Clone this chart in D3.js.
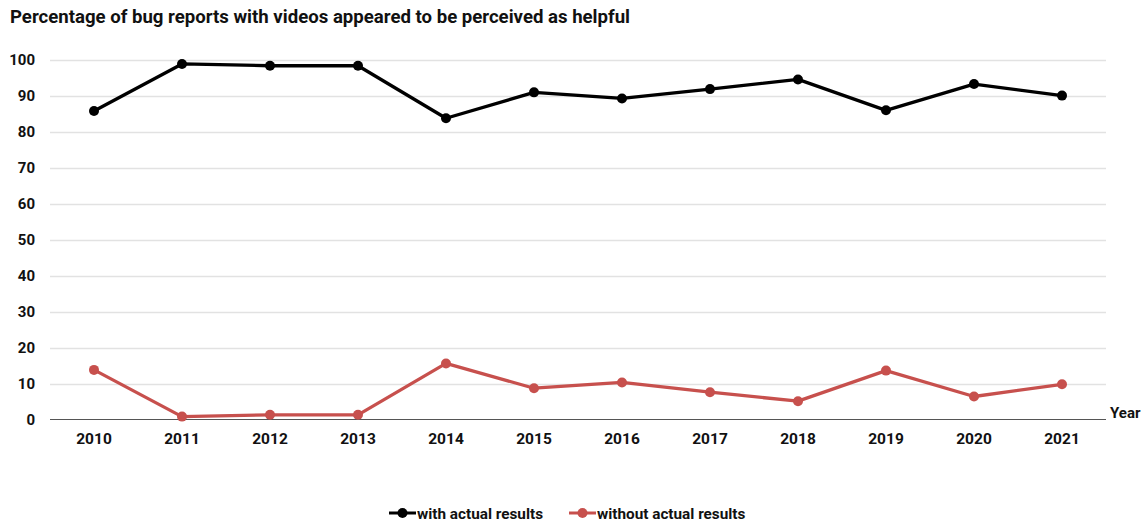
<!DOCTYPE html>
<html>
<head>
<meta charset="utf-8">
<script src="https://cdn.jsdelivr.net/npm/d3@7"></script>
<style>
  html, body { margin: 0; padding: 0; background: #fff; }
  svg { display: block; font-family: Roboto, "Noto Sans", sans-serif; }
</style>
</head>
<body>
<svg id="chart" width="1145" height="524"></svg>
<script>
// Share of bug reports with videos perceived as helpful, per year
const years = ["2010", "2011", "2012", "2013", "2014", "2015", "2016", "2017", "2018", "2019", "2020", "2021"];
const withActual = [85.8, 98.9, 98.4, 98.4, 83.8, 91.0, 89.3, 91.9, 94.6, 86.0, 93.3, 90.1];
const withoutActual = [13.8, 0.8, 1.3, 1.3, 15.6, 8.7, 10.3, 7.6, 5.1, 13.6, 6.4, 9.8];
const yTicks = [0, 10, 20, 30, 40, 50, 60, 70, 80, 90, 100];
const seriesNames = ["with actual results", "without actual results"];
const seriesColors = ["#000000", "#c7504d"];

const svg = d3.select("#chart");
const margin = { left: 50, right: 1106, top: 60, bottom: 419.5 };

const x = d3.scaleBand().domain(years).range([margin.left, margin.right]);
const y = d3.scaleLinear().domain([0, 100]).range([margin.bottom, margin.top]);
const cx = d => x(d) + x.bandwidth() / 2;

// title
svg.append("text")
  .attr("x", 10).attr("y", 23)
  .attr("font-size", 18.6).attr("font-weight", 700).attr("fill", "#111")
  .text("Percentage of bug reports with videos appeared to be perceived as helpful");

// horizontal gridlines
svg.append("g").selectAll("line").data(yTicks.filter(t => t > 0)).join("line")
  .attr("x1", margin.left).attr("x2", margin.right)
  .attr("y1", d => Math.round(y(d)) + 0.5).attr("y2", d => Math.round(y(d)) + 0.5)
  .attr("stroke", "#e2e2e2").attr("stroke-width", 1.5);

// baseline
svg.append("line")
  .attr("x1", margin.left).attr("x2", margin.right)
  .attr("y1", y(0)).attr("y2", y(0))
  .attr("stroke", "#555").attr("stroke-width", 1.2);

// y axis labels
const yAxis = d3.axisLeft(y).tickValues(yTicks).tickSize(0).tickPadding(15);
svg.append("g").attr("transform", `translate(${margin.left},0)`).call(yAxis)
  .call(g => g.select(".domain").remove())
  .call(g => g.selectAll("text").attr("font-size", 15).attr("font-weight", 700)
    .attr("fill", "#111").attr("font-family", "Roboto, sans-serif"));

// x axis labels
const xAxis = d3.axisBottom(x).tickSize(0).tickPadding(13);
svg.append("g").attr("transform", `translate(0,${y(0)})`).call(xAxis)
  .call(g => g.select(".domain").remove())
  .call(g => g.selectAll("text").attr("font-size", 15.5).attr("font-weight", 700)
    .attr("fill", "#111").attr("font-family", "Roboto, sans-serif"));

// axis title
svg.append("text")
  .attr("x", 1110).attr("y", 418)
  .attr("font-size", 15).attr("font-weight", 700).attr("fill", "#111")
  .text("Year");

// series lines and markers
const seriesData = [withActual, withoutActual];
const line = d3.line().x((d, i) => cx(years[i])).y(d => y(d));
seriesData.forEach((vals, s) => {
  svg.append("path")
    .attr("d", line(vals))
    .attr("fill", "none")
    .attr("stroke", seriesColors[s])
    .attr("stroke-width", 3.3)
    .attr("stroke-linejoin", "round");
  svg.append("g").selectAll("circle").data(vals).join("circle")
    .attr("cx", (d, i) => cx(years[i]))
    .attr("cy", d => y(d))
    .attr("r", 5)
    .attr("fill", seriesColors[s]);
});

// legend
const legendX = [389, 569];
const legend = svg.append("g");
seriesNames.forEach((name, i) => {
  const g = legend.append("g").attr("transform", `translate(${legendX[i]},513)`);
  g.append("line").attr("x1", 0).attr("x2", 27).attr("y1", 0).attr("y2", 0)
    .attr("stroke", seriesColors[i]).attr("stroke-width", 3);
  g.append("circle").attr("cx", 13.5).attr("cy", 0).attr("r", 5).attr("fill", seriesColors[i]);
  g.append("text").attr("x", 28).attr("y", 5.5)
    .attr("font-size", 15.3).attr("font-weight", 700).attr("fill", "#111")
    .text(name);
});
</script>
</body>
</html>
